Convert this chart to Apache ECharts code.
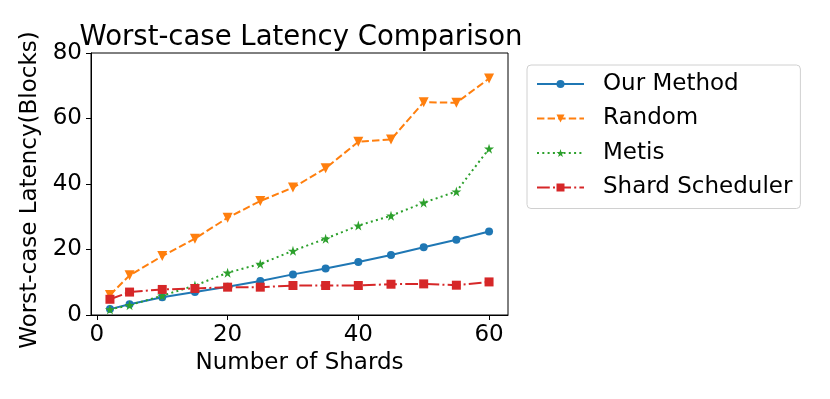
<!DOCTYPE html>
<html>
<head>
<meta charset="utf-8">
<script src="https://cdn.jsdelivr.net/npm/echarts@6/dist/echarts.min.js"></script>
<style>
  html, body { margin: 0; padding: 0; background: #fff; }
  #chart { width: 830px; height: 399px; }
</style>
</head>
<body>
<div id="chart"></div>
<script>
const shards = [2, 5, 10, 15, 20, 25, 30, 35, 40, 45, 50, 55, 60]
const ourMethod = [1.8, 3.3, 5.4, 7.0, 8.6, 10.4, 12.4, 14.2, 16.2, 18.3, 20.7, 23.0, 25.5]
const randomPart = [6.1, 12.1, 18.0, 23.3, 29.7, 34.8, 38.9, 44.8, 52.9, 53.6, 65.0, 64.8, 72.2]
const metis = [1.7, 3.0, 5.9, 9.0, 12.9, 15.6, 19.6, 23.3, 27.3, 30.3, 34.3, 37.7, 50.8]
const shardScheduler = [4.8, 7.0, 7.8, 8.1, 8.5, 8.5, 9.0, 9.0, 9.0, 9.4, 9.5, 9.1, 10.1]
const xTicks = [0, 20, 40, 60]

const FONT = 'DejaVu Sans'
const STAR = 'path://M50,0 L61,35 L98,35 L68,57 L79,91 L50,70 L21,91 L32,57 L2,35 L39,35 Z'

function pairs(ys) {
  return shards.map((x, i) => [x, ys[i]])
}

function makeSeries(name, ys, color, dash, symbol, size, rotate) {
  return {
    name,
    type: 'line',
    data: pairs(ys),
    symbol,
    symbolSize: size,
    symbolRotate: rotate || 0,
    lineStyle: { color, width: 2, type: dash },
    itemStyle: { color, borderWidth: 0 },
    emphasis: { disabled: true }
  }
}

const chart = echarts.init(document.getElementById('chart'))
chart.setOption({
  animation: false,
  textStyle: { fontFamily: FONT },
  title: {
    text: 'Worst-case Latency Comparison',
    left: 296,
    textAlign: 'center',
    top: 19,
    textStyle: { fontFamily: FONT, fontSize: 27.5, fontWeight: 'normal', color: '#000' }
  },
  legend: {
    orient: 'vertical',
    left: 527,
    top: 65,
    padding: [6, 8, 8, 9],
    itemWidth: 47,
    itemHeight: 10,
    itemGap: 8.5,
    borderColor: '#d0d0d0',
    borderWidth: 1,
    borderRadius: 4,
    textStyle: { fontFamily: FONT, fontSize: 23, color: '#000', lineHeight: 26, padding: [0, 0, 0, 14] },
    data: ['Our Method', 'Random', 'Metis', 'Shard Scheduler']
  },
  grid: {
    left: 91,
    right: 322,
    top: 53,
    bottom: 84,
    show: true,
    borderColor: '#000',
    borderWidth: 1
  },
  xAxis: {
    type: 'value',
    min: -0.9,
    max: 62.9,
    name: 'Number of Shards',
    nameLocation: 'middle',
    nameGap: 32,
    nameTextStyle: { fontFamily: FONT, fontSize: 23, color: '#000' },
    axisLine: { show: true, onZero: false, lineStyle: { color: '#000' } },
    axisTick: { show: true, length: 5, customValues: xTicks, lineStyle: { color: '#000' } },
    axisLabel: { customValues: xTicks, margin: 9, fontFamily: FONT, fontSize: 23, color: '#000' },
    splitLine: { show: false }
  },
  yAxis: {
    type: 'value',
    min: 0,
    max: 80,
    interval: 20,
    name: 'Worst-case Latency(Blocks)',
    nameLocation: 'middle',
    nameGap: 43,
    nameTextStyle: { fontFamily: FONT, fontSize: 23, color: '#000', padding: [0, 12, 0, 0] },
    axisLine: { show: true, onZero: false, lineStyle: { color: '#000' } },
    axisTick: { show: true, length: 5, lineStyle: { color: '#000' } },
    axisLabel: { margin: 9, fontFamily: FONT, fontSize: 23, color: '#000' },
    splitLine: { show: false }
  },
  series: [
    makeSeries('Our Method', ourMethod, '#1f77b4', 'solid', 'circle', 8),
    makeSeries('Random', randomPart, '#ff7f0e', [7.4, 3.2], 'triangle', 10, 180),
    makeSeries('Metis', metis, '#2ca02c', [2, 3.3], STAR, 10),
    makeSeries('Shard Scheduler', shardScheduler, '#d62728', [12.8, 3.2, 2, 3.2], 'rect', 9)
  ]
})
</script>
</body>
</html>
